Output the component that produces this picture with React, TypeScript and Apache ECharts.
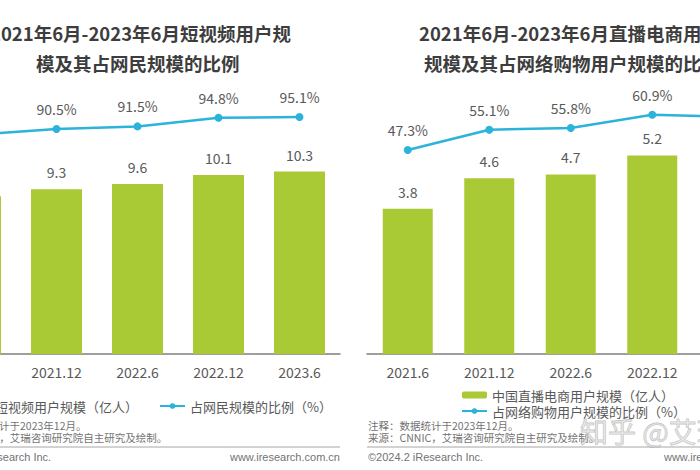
import React, { useEffect, useRef } from "react";
import * as echarts from "echarts";

const categoriesLeft = ["2021.6", "2021.12", "2022.6", "2022.12", "2023.6"];
const shortVideoUsers = [8.9, 9.3, 9.6, 10.1, 10.3];
const shortVideoShare = [88.3, 90.5, 91.5, 94.8, 95.1];

const categoriesRight = ["2021.6", "2021.12", "2022.6", "2022.12", "2023.6"];
const liveUsers = [3.8, 4.6, 4.7, 5.2, 5.3];
const liveShare = [47.3, 55.1, 55.8, 60.9, 60.0];

const nameLeftBar = "中国短视频用户规模（亿人）";
const nameLeftLine = "占网民规模的比例（%）";
const nameRightBar = "中国直播电商用户规模（亿人）";
const nameRightLine = "占网络购物用户规模的比例（%）";

const GREEN = "#A9CA35";
const BLUE = "#2BB3DA";
const LABEL = "#595959";
const TITLE = "#3d3d3d";
const FONT = "Noto Sans CJK SC";

export default function App() {
  const ref = useRef<HTMLDivElement>(null);
  useEffect(() => {
    if (!ref.current) return;
    const chart = echarts.init(ref.current, undefined, { renderer: "svg" });

    const axisLabel = { color: LABEL, fontSize: 14, margin: 11, fontFamily: FONT };
    const axisLine = { show: true, lineStyle: { color: "#7f7f7f", width: 1.5 } };
    const barLabel = { show: true, position: "top", distance: 10, color: LABEL, fontSize: 14, fontFamily: FONT };
    const lineLabel = {
      show: true,
      position: "top",
      distance: 9,
      color: LABEL,
      fontSize: 14,
      fontFamily: FONT,
      formatter: (p: any) => p.value.toFixed(1) + "%",
    };

    const text = (t: string, x: number, y: number, size: number, extra: any = {}) => ({
      type: "text",
      x,
      y,
      silent: true,
      style: {
        text: t,
        fontSize: size,
        fontFamily: FONT,
        fill: "#737373",
        verticalAlign: "middle",
        align: "left",
        ...extra,
      },
    });

    const option: any = {
      animation: false,
      backgroundColor: "#ffffff",
      textStyle: { fontFamily: FONT },
      grid: [
        { left: -65, top: 100, width: 405, height: 254, containLabel: false, outerBoundsMode: "none" },
        { left: 367, top: 100, width: 407.5, height: 254, containLabel: false, outerBoundsMode: "none" },
      ],
      xAxis: [
        {
          type: "category",
          gridIndex: 0,
          data: categoriesLeft,
          axisLine,
          axisTick: { show: false },
          axisLabel,
        },
        {
          type: "category",
          gridIndex: 1,
          data: categoriesRight,
          axisLine,
          axisTick: { show: false },
          axisLabel,
        },
      ],
      yAxis: [
        { type: "value", gridIndex: 0, min: 0, max: 14.34, show: false },
        { type: "value", gridIndex: 0, min: 3.96, max: 101.65, show: false },
        { type: "value", gridIndex: 1, min: 0, max: 6.65, show: false },
        { type: "value", gridIndex: 1, min: -31.28, max: 66.56, show: false },
      ],
      legend: [
        {
          data: [nameLeftBar, nameLeftLine],
          orient: "horizontal",
          left: -61,
          top: 399.5,
          padding: 0,
          itemWidth: 25,
          itemHeight: 7,
          itemGap: 21,
          textStyle: { fontSize: 13, color: LABEL, fontFamily: FONT },
        },
        {
          data: [nameRightBar, nameRightLine],
          orient: "vertical",
          left: 461,
          top: 388.5,
          padding: 0,
          itemWidth: 25,
          itemHeight: 7,
          itemGap: 3,
          textStyle: { fontSize: 13, color: LABEL, fontFamily: FONT },
        },
      ],
      series: [
        {
          name: nameLeftBar,
          type: "bar",
          xAxisIndex: 0,
          yAxisIndex: 0,
          data: shortVideoUsers,
          barWidth: 51,
          itemStyle: { color: GREEN },
          label: barLabel,
        },
        {
          name: nameLeftLine,
          type: "line",
          xAxisIndex: 0,
          yAxisIndex: 1,
          data: shortVideoShare,
          clip: false,
          symbol: "circle",
          symbolSize: 8,
          lineStyle: { color: BLUE, width: 2.5 },
          itemStyle: { color: BLUE },
          label: lineLabel,
        },
        {
          name: nameRightBar,
          type: "bar",
          xAxisIndex: 1,
          yAxisIndex: 2,
          data: liveUsers,
          barWidth: 50,
          itemStyle: { color: GREEN },
          label: barLabel,
        },
        {
          name: nameRightLine,
          type: "line",
          xAxisIndex: 1,
          yAxisIndex: 3,
          data: liveShare,
          clip: false,
          symbol: "circle",
          symbolSize: 8,
          lineStyle: { color: BLUE, width: 2.5 },
          itemStyle: { color: BLUE },
          label: lineLabel,
        },
      ],
      graphic: [
        text("2021年6月-2023年6月短视频用户规", -10, 32.5, 18.5, { fontWeight: "bold", fill: TITLE }),
        text("模及其占网民规模的比例", 36, 62.5, 18.5, { fontWeight: "bold", fill: TITLE }),
        text("2021年6月-2023年6月直播电商用户", 419, 32.5, 18.5, { fontWeight: "bold", fill: TITLE }),
        text("规模及其占网络购物用户规模的比例", 424, 62.5, 18.5, { fontWeight: "bold", fill: TITLE }),
        text("注释：数据统计于2023年12月。", -64, 425, 10.5),
        text("来源：CNNIC，艾瑞咨询研究院自主研究及绘制。", -64, 437, 10.5),
        text("注释：数据统计于2023年12月。", 368, 425, 10.5),
        text("来源：CNNIC，艾瑞咨询研究院自主研究及绘制。", 368, 437, 10.5),
        {
          type: "line",
          silent: true,
          shape: { x1: -65, y1: 447, x2: 340, y2: 447 },
          style: { stroke: "#a6a6a6", lineWidth: 1 },
        },
        {
          type: "line",
          silent: true,
          shape: { x1: 367, y1: 447, x2: 775, y2: 447 },
          style: { stroke: "#a6a6a6", lineWidth: 1 },
        },
        text("©2024.2 iResearch Inc.", -64, 457, 11, { fontFamily: "Liberation Sans" }),
        text("www.iresearch.com.cn", 340, 457, 11, { fontFamily: "Liberation Sans", align: "right" }),
        text("©2024.2 iResearch Inc.", 368, 457, 11, { fontFamily: "Liberation Sans" }),
        text("www.iresearch.com.cn", 774, 457, 11, { fontFamily: "Liberation Sans", align: "right" }),
        text("知乎 @艾瑞咨询", 580, 431, 28, {
          fill: "rgba(215,215,215,0.55)",
          stroke: "rgba(140,140,140,0.55)",
          lineWidth: 0.8,
        }),
      ],
    };

    chart.setOption(option);
    return () => chart.dispose();
  }, []);

  return (
    <div
      ref={ref}
      style={{ position: "absolute", left: 0, top: 0, width: 700, height: 470, background: "#fff" }}
    />
  );
}
